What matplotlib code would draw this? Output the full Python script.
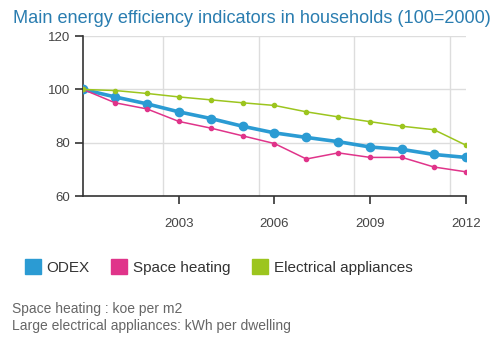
import matplotlib
matplotlib.use('Agg')
import matplotlib.pyplot as plt
from matplotlib.patches import Patch

plt.rcParams['font.family'] = ['Liberation Sans', 'DejaVu Sans']

years = list(range(2000, 2013))
odex = [100, 97.2, 94.6, 91.6, 89.1, 86.2, 83.7, 82.0, 80.4, 78.4, 77.5, 75.6, 74.5]
space_heating = [100, 95.0, 92.7, 88.0, 85.5, 82.6, 79.7, 73.9, 76.2, 74.5, 74.5, 70.9, 69.1]
appliances = [100, 99.6, 98.5, 97.2, 96.1, 95.0, 94.0, 91.6, 89.7, 87.9, 86.2, 84.9, 79.1]

x_ticks = [2003, 2006, 2009, 2012]
y_ticks = [60, 80, 100, 120]
grid_x = [2002.5, 2005.5, 2008.5, 2011.5]

c_odex = '#2b9bd3'
c_heat = '#e0348a'
c_app = '#9cc51e'
c_text = '#444444'

fig = plt.figure(figsize=(4.95, 3.38), dpi=100)
ax = fig.add_axes([0.168, 0.42, 0.773, 0.473])

# light grid first, under the lines
for g in grid_x:
    ax.axvline(g, color='#dddddd', lw=1, zorder=0)
for v in [80, 100, 120]:
    ax.axhline(v, color='#dddddd', lw=1, zorder=0)

ax.plot(years, odex, color=c_odex, lw=2.6, marker='o', ms=6, zorder=3)
ax.plot(years, space_heating, color=c_heat, lw=1.1, marker='o', ms=3, zorder=4)
ax.plot(years, appliances, color=c_app, lw=1.1, marker='o', ms=3, zorder=5)

ax.set_xlim(2000, 2012)
ax.set_ylim(60, 120)
ax.set_xticks(x_ticks)
ax.set_yticks(y_ticks)
ax.tick_params(axis='both', colors='#333333', labelcolor=c_text, labelsize=9.5,
               length=5.5, width=1.2)
ax.tick_params(axis='x', pad=10)
ax.tick_params(axis='y', pad=4)
for s in ['top', 'right']:
    ax.spines[s].set_visible(False)
for s in ['left', 'bottom']:
    ax.spines[s].set_color('#333333')
    ax.spines[s].set_linewidth(1.2)
ax.set_facecolor('white')

fig.text(0.026, 0.945, 'Main energy efficiency indicators in households (100=2000)',
         color='#2a7db0', fontsize=13.1, va='center')

handles = [Patch(color=c_odex, label='ODEX'),
           Patch(color=c_heat, label='Space heating'),
           Patch(color=c_app, label='Electrical appliances')]
fig.legend(handles=handles, loc='center left', bbox_to_anchor=(0.022, 0.21), ncol=3,
           frameon=False, fontsize=11, handlelength=1.05, handleheight=1.05,
           handletextpad=0.35, columnspacing=1.45, labelcolor='#333333')

fig.text(0.024, 0.086, 'Space heating : koe per m2', color='#666666', fontsize=10, va='center')
fig.text(0.024, 0.036, 'Large electrical appliances: kWh per dwelling', color='#666666',
         fontsize=10, va='center')

fig.savefig('out.png', dpi=100, facecolor='white')
